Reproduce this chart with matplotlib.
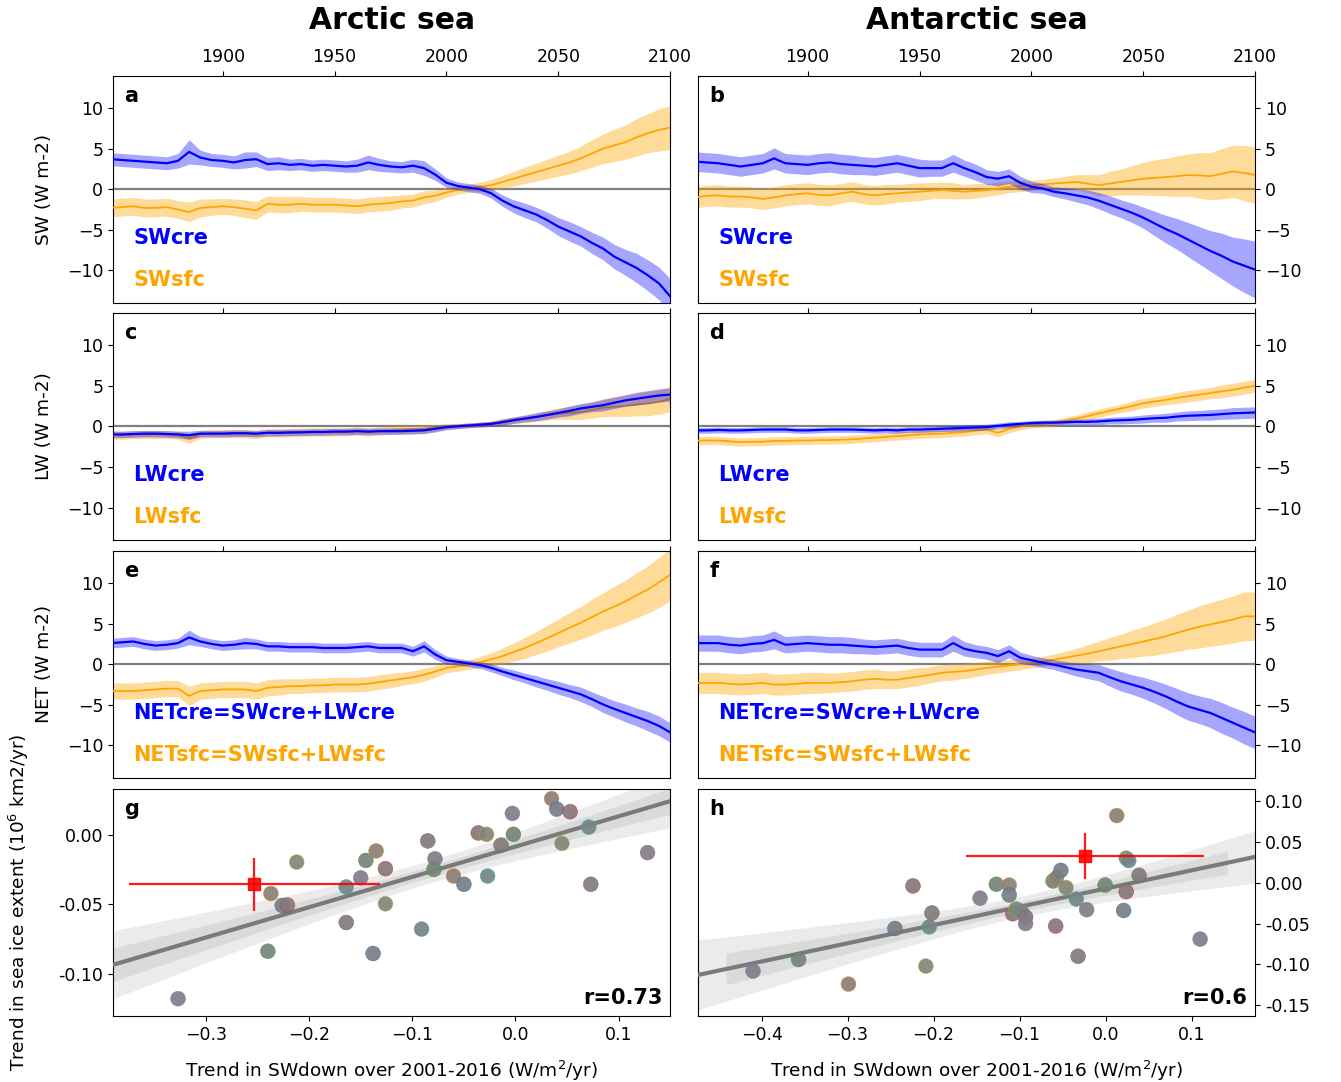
import numpy as np
import matplotlib
matplotlib.use('Agg')
import matplotlib.pyplot as plt
from matplotlib.colors import to_rgb

# ---- time series, 5-year steps 1850-2100
years = list(range(1850, 2101, 5))

arc_swcre = [3.7, 3.6, 3.5, 3.4, 3.3, 3.2, 3.5, 4.6, 3.9, 3.6, 3.5, 3.3, 3.6, 3.7, 3.1, 3.2, 3.0, 3.1, 2.9, 3.0,
             2.9, 2.8, 2.9, 3.3, 3.0, 2.8, 2.7, 2.9, 2.6, 1.8, 0.8, 0.4, 0.2, 0.0, -0.5, -1.4, -2.1, -2.6, -3.1, -3.8,
             -4.6, -5.2, -5.8, -6.6, -7.3, -8.3, -9.0, -9.7, -10.6, -11.6, -13.2]
arc_swcre_sd = [0.8, 0.8, 0.8, 0.8, 0.8, 0.8, 0.9, 1.5, 0.9, 0.8, 0.8, 0.8, 1.0, 0.9, 0.8, 0.8, 0.7, 0.7, 0.7, 0.7,
                0.7, 0.7, 0.8, 0.9, 0.8, 0.7, 0.7, 0.8, 0.9, 0.7, 0.6, 0.5, 0.5, 0.5, 0.6, 0.7, 0.8, 0.9, 0.9, 1.0,
                1.1, 1.2, 1.2, 1.3, 1.4, 1.5, 1.6, 1.8, 1.9, 2.0, 2.2]
arc_swsfc = [-2.3, -2.2, -2.1, -2.3, -2.3, -2.2, -2.5, -2.8, -2.3, -2.2, -2.1, -2.2, -2.4, -2.6, -1.8, -1.9, -1.9, -1.8,
             -1.9, -1.9, -1.9, -2.0, -2.1, -1.9, -1.8, -1.7, -1.5, -1.4, -1.0, -0.8, -0.4, -0.1, 0.1, 0.3, 0.5, 0.9,
             1.3, 1.7, 2.1, 2.5, 2.9, 3.3, 3.8, 4.4, 5.0, 5.4, 5.8, 6.4, 6.9, 7.3, 7.6]
arc_swsfc_sd = [1.1, 1.1, 1.1, 1.1, 1.1, 1.1, 1.1, 1.2, 1.1, 1.0, 1.0, 1.0, 1.1, 1.1, 1.0, 1.0, 1.0, 0.9, 0.9, 0.9,
                0.9, 0.9, 0.9, 0.9, 0.9, 0.9, 0.8, 0.8, 0.8, 0.7, 0.6, 0.5, 0.5, 0.6, 0.7, 0.8, 0.9, 1.0, 1.1, 1.2,
                1.3, 1.4, 1.5, 1.7, 1.8, 2.0, 2.1, 2.3, 2.4, 2.6, 2.7]

ant_swcre = [3.4, 3.3, 3.2, 3.0, 2.8, 3.0, 3.2, 3.8, 3.2, 3.1, 3.0, 3.2, 3.3, 3.1, 3.0, 2.9, 2.8, 3.0, 3.2, 2.9,
             2.6, 2.6, 2.6, 3.2, 2.6, 2.1, 1.5, 1.3, 1.6, 0.8, 0.3, 0.1, -0.3, -0.5, -0.75, -1.0, -1.4, -1.9, -2.4,
             -2.9, -3.5, -4.2, -4.9, -5.5, -6.2, -6.9, -7.6, -8.2, -8.9, -9.4, -9.9]
ant_swcre_sd = [1.2, 1.2, 1.2, 1.2, 1.2, 1.2, 1.2, 1.3, 1.2, 1.2, 1.2, 1.2, 1.2, 1.2, 1.2, 1.1, 1.1, 1.1, 1.1, 1.1,
                1.1, 1.0, 1.0, 1.1, 1.0, 1.0, 0.9, 0.9, 0.9, 0.8, 0.7, 0.6, 0.6, 0.7, 0.8, 0.9, 1.0, 1.1, 1.1, 1.2,
                1.3, 1.5, 1.7, 1.9, 2.1, 2.3, 2.5, 2.8, 3.0, 3.3, 3.5]
ant_swsfc = [-1.0, -0.8, -0.75, -0.9, -0.9, -1.0, -1.2, -1.0, -0.75, -0.6, -0.5, -0.7, -0.75, -0.5, -0.3, -0.6, -0.75,
             -0.6, -0.5, -0.4, -0.3, -0.2, -0.1, -0.2, -0.3, -0.2, -0.1, 0.1, 0.3, 0.4, 0.5, 0.6, 0.7, 0.8, 0.9, 0.7,
             0.5, 0.7, 0.9, 1.1, 1.3, 1.4, 1.5, 1.6, 1.75, 1.7, 1.6, 1.9, 2.2, 2.0, 1.75]
ant_swsfc_sd = [1.3, 1.3, 1.3, 1.3, 1.3, 1.3, 1.3, 1.3, 1.3, 1.3, 1.3, 1.3, 1.3, 1.2, 1.2, 1.2, 1.2, 1.2, 1.1, 1.1,
                1.1, 1.0, 1.0, 1.0, 0.9, 0.9, 0.8, 0.8, 0.7, 0.7, 0.6, 0.6, 0.7, 0.8, 0.9, 1.1, 1.3, 1.5, 1.6, 1.8,
                2.0, 2.2, 2.3, 2.5, 2.6, 2.8, 2.9, 3.1, 3.2, 3.4, 3.5]

arc_lwcre = [-1.0, -1.0, -0.95, -0.9, -0.9, -0.95, -1.0, -1.1, -0.9, -0.9, -0.9, -0.85, -0.85, -0.9, -0.8, -0.8, -0.75,
             -0.75, -0.7, -0.7, -0.65, -0.65, -0.6, -0.65, -0.6, -0.6, -0.6, -0.55, -0.5, -0.3, -0.1, 0.0, 0.1, 0.2,
             0.3, 0.5, 0.75, 0.95, 1.15, 1.4, 1.65, 1.9, 2.2, 2.4, 2.6, 2.9, 3.2, 3.4, 3.6, 3.8, 3.9]
arc_lwcre_sd = [0.4, 0.4, 0.4, 0.4, 0.4, 0.4, 0.4, 0.5, 0.4, 0.4, 0.4, 0.4, 0.4, 0.4, 0.4, 0.4, 0.4, 0.4, 0.4, 0.4,
                0.4, 0.4, 0.4, 0.4, 0.4, 0.4, 0.4, 0.4, 0.4, 0.4, 0.3, 0.3, 0.3, 0.3, 0.3, 0.4, 0.4, 0.4, 0.5, 0.5,
                0.5, 0.6, 0.6, 0.6, 0.7, 0.7, 0.7, 0.8, 0.8, 0.8, 0.8]
arc_lwsfc = [-1.1, -1.1, -1.0, -1.0, -1.0, -1.0, -1.1, -1.5, -1.0, -0.9, -0.9, -0.9, -0.9, -1.0, -0.8, -0.8, -0.8, -0.7,
             -0.7, -0.7, -0.7, -0.7, -0.6, -0.7, -0.6, -0.5, -0.4, -0.4, -0.35, -0.2, -0.05, 0.05, 0.15, 0.25, 0.35,
             0.55, 0.75, 0.95, 1.15, 1.35, 1.55, 1.65, 1.75, 2.0, 2.3, 2.4, 2.5, 2.7, 2.8, 3.0, 3.4]
arc_lwsfc_sd = [0.5, 0.5, 0.5, 0.5, 0.5, 0.5, 0.5, 0.6, 0.5, 0.5, 0.5, 0.5, 0.5, 0.5, 0.5, 0.5, 0.5, 0.5, 0.5, 0.5,
                0.5, 0.5, 0.5, 0.5, 0.5, 0.5, 0.5, 0.5, 0.5, 0.4, 0.4, 0.3, 0.3, 0.3, 0.3, 0.4, 0.4, 0.5, 0.5, 0.6,
                0.7, 0.8, 0.9, 1.0, 1.1, 1.2, 1.3, 1.4, 1.5, 1.5, 1.6]

ant_lwcre = [-0.5, -0.5, -0.45, -0.5, -0.5, -0.45, -0.4, -0.4, -0.4, -0.5, -0.5, -0.45, -0.4, -0.4, -0.4, -0.45, -0.5,
             -0.45, -0.5, -0.4, -0.4, -0.35, -0.3, -0.25, -0.2, -0.15, -0.1, 0.05, 0.2, 0.3, 0.4, 0.45, 0.45, 0.5,
             0.55, 0.55, 0.6, 0.7, 0.75, 0.8, 0.9, 1.0, 1.05, 1.2, 1.3, 1.35, 1.4, 1.5, 1.6, 1.65, 1.7]
ant_lwcre_sd = [0.35, 0.35, 0.35, 0.35, 0.35, 0.35, 0.35, 0.35, 0.35, 0.35, 0.35, 0.35, 0.35, 0.35, 0.35, 0.35, 0.35,
                0.35, 0.35, 0.35, 0.35, 0.35, 0.35, 0.35, 0.35, 0.35, 0.35, 0.35, 0.35, 0.3, 0.3, 0.3, 0.3, 0.3, 0.35,
                0.35, 0.4, 0.4, 0.45, 0.45, 0.5, 0.5, 0.55, 0.55, 0.6, 0.6, 0.65, 0.65, 0.7, 0.7, 0.7]
ant_lwsfc = [-1.75, -1.75, -1.75, -1.85, -1.95, -1.9, -1.9, -1.8, -1.8, -1.75, -1.75, -1.7, -1.7, -1.65, -1.6, -1.5,
             -1.4, -1.3, -1.2, -1.1, -1.0, -0.95, -0.9, -0.8, -0.7, -0.55, -0.4, -0.8, -0.3, -0.05, 0.2, 0.3, 0.45,
             0.7, 0.95, 1.25, 1.6, 1.9, 2.2, 2.5, 2.85, 3.05, 3.25, 3.5, 3.7, 3.9, 4.1, 4.3, 4.5, 4.75, 5.0]
ant_lwsfc_sd = [0.5, 0.5, 0.5, 0.5, 0.5, 0.5, 0.5, 0.5, 0.5, 0.5, 0.5, 0.5, 0.5, 0.5, 0.5, 0.5, 0.5, 0.5, 0.5, 0.5,
                0.5, 0.5, 0.5, 0.5, 0.5, 0.5, 0.5, 0.5, 0.5, 0.4, 0.4, 0.4, 0.4, 0.4, 0.4, 0.5, 0.5, 0.5, 0.5, 0.6,
                0.6, 0.6, 0.6, 0.7, 0.7, 0.7, 0.7, 0.8, 0.8, 0.8, 0.8]

arc_netcre = [2.6, 2.7, 2.8, 2.5, 2.3, 2.4, 2.6, 3.3, 2.8, 2.5, 2.3, 2.4, 2.6, 2.5, 2.2, 2.2, 2.1, 2.1, 2.1, 2.0,
              2.0, 2.0, 2.1, 2.2, 2.0, 2.0, 2.0, 1.6, 2.2, 1.2, 0.5, 0.3, 0.1, -0.1, -0.45, -0.9, -1.3, -1.7, -2.1,
              -2.5, -2.9, -3.3, -3.7, -4.3, -4.95, -5.5, -6.0, -6.5, -7.0, -7.6, -8.4]
arc_netcre_sd = [0.6, 0.6, 0.6, 0.6, 0.6, 0.6, 0.6, 0.9, 0.6, 0.6, 0.6, 0.6, 0.7, 0.6, 0.6, 0.6, 0.6, 0.6, 0.6, 0.6,
                 0.6, 0.6, 0.6, 0.6, 0.6, 0.6, 0.6, 0.6, 0.7, 0.6, 0.5, 0.4, 0.4, 0.4, 0.5, 0.5, 0.6, 0.6, 0.7, 0.7,
                 0.8, 0.8, 0.9, 0.9, 1.0, 1.0, 1.1, 1.1, 1.2, 1.2, 1.2]
arc_netsfc = [-3.3, -3.3, -3.3, -3.2, -3.1, -3.0, -3.0, -3.9, -3.3, -3.2, -3.1, -3.1, -3.1, -3.3, -2.9, -2.8, -2.7, -2.7,
              -2.6, -2.6, -2.5, -2.5, -2.5, -2.4, -2.2, -2.0, -1.8, -1.6, -1.3, -0.9, -0.45, -0.25, -0.05, 0.25, 0.6,
              1.0, 1.5, 2.0, 2.6, 3.2, 3.85, 4.5, 5.1, 5.8, 6.5, 7.1, 7.75, 8.5, 9.2, 10.1, 11.0]
arc_netsfc_sd = [1.0, 1.0, 1.0, 1.0, 1.0, 1.0, 1.0, 1.2, 1.0, 1.0, 1.0, 1.0, 1.0, 1.0, 1.0, 1.0, 0.9, 0.9, 0.9, 0.9,
                 0.9, 0.9, 0.9, 0.9, 0.9, 0.9, 0.8, 0.8, 0.8, 0.7, 0.6, 0.6, 0.6, 0.7, 0.8, 1.0, 1.1, 1.3, 1.4, 1.6,
                 1.7, 1.9, 2.0, 2.2, 2.3, 2.5, 2.6, 2.8, 2.9, 3.1, 3.2]

ant_netcre = [2.6, 2.6, 2.6, 2.4, 2.3, 2.5, 2.6, 3.0, 2.4, 2.5, 2.6, 2.5, 2.4, 2.4, 2.3, 2.2, 2.1, 2.2, 2.3, 2.0,
              1.8, 1.8, 1.8, 2.6, 1.9, 1.6, 1.4, 1.0, 1.6, 0.8, 0.5, 0.2, -0.05, -0.35, -0.65, -0.85, -1.05, -1.6,
              -2.1, -2.5, -2.9, -3.4, -3.95, -4.6, -5.2, -5.6, -6.0, -6.6, -7.2, -7.8, -8.4]
ant_netcre_sd = [1.0, 1.0, 1.0, 1.0, 1.0, 1.0, 1.0, 1.1, 1.0, 1.0, 1.0, 1.0, 1.0, 1.0, 1.0, 0.9, 0.9, 0.9, 0.9, 0.9,
                 0.9, 0.9, 0.9, 1.0, 0.9, 0.8, 0.8, 0.8, 0.8, 0.7, 0.6, 0.6, 0.6, 0.7, 0.8, 0.9, 1.0, 1.1, 1.2, 1.2,
                 1.3, 1.4, 1.5, 1.6, 1.7, 1.7, 1.8, 1.9, 1.9, 2.0, 2.0]
ant_netsfc = [-2.3, -2.3, -2.3, -2.4, -2.5, -2.4, -2.3, -2.5, -2.5, -2.4, -2.3, -2.3, -2.3, -2.2, -2.1, -1.9, -1.8, -1.9,
              -1.9, -1.7, -1.5, -1.3, -1.05, -0.95, -0.85, -0.65, -0.45, -0.3, -0.15, 0.0, 0.15, 0.35, 0.55, 0.8,
              1.05, 1.3, 1.6, 1.9, 2.2, 2.5, 2.8, 3.1, 3.45, 3.85, 4.25, 4.6, 4.9, 5.2, 5.5, 5.9, 5.9]
ant_netsfc_sd = [1.3, 1.3, 1.3, 1.3, 1.3, 1.3, 1.3, 1.3, 1.3, 1.3, 1.3, 1.3, 1.2, 1.2, 1.2, 1.2, 1.2, 1.1, 1.1, 1.1,
                 1.1, 1.0, 1.0, 1.0, 0.9, 0.9, 0.8, 0.8, 0.7, 0.7, 0.6, 0.6, 0.7, 0.8, 0.9, 1.1, 1.2, 1.4, 1.5, 1.7,
                 1.8, 2.0, 2.1, 2.3, 2.4, 2.6, 2.7, 2.8, 2.9, 3.0, 3.0]

# ---- scatter: model trends 2001-2016
arc_sw = [-0.327, -0.240, -0.237, -0.226, -0.221, -0.212, -0.164, -0.164, -0.150, -0.145, -0.135, -0.138, -0.126,
          -0.126, -0.091, -0.085, -0.078, -0.079, -0.060, -0.050, -0.036, -0.028, -0.027, -0.014, -0.003, -0.002,
          0.035, 0.040, 0.053, 0.045, 0.071, 0.073, 0.128]
arc_ice = [-0.1176, -0.0836, -0.0422, -0.0508, -0.0505, -0.0197, -0.0375, -0.0630, -0.0310, -0.0185, -0.0117,
           -0.0852, -0.0244, -0.0496, -0.0677, -0.0045, -0.0173, -0.0250, -0.0297, -0.0356, 0.0012, 0.0002, -0.0297,
           -0.0075, 0.0152, 0.0002, 0.0258, 0.0183, 0.0164, -0.0063, 0.0054, -0.0356, -0.0129]
ant_sw = [-0.410, -0.357, -0.299, -0.245, -0.224, -0.209, -0.205, -0.202, -0.146, -0.127, -0.112, -0.112, -0.108,
          -0.104, -0.098, -0.093, -0.093, -0.061, -0.057, -0.052, -0.058, -0.046, -0.034, -0.032, -0.022, -0.0005,
          0.013, 0.021, 0.024, 0.024, 0.027, 0.039, 0.110]
ant_ice = [-0.108, -0.094, -0.124, -0.056, -0.004, -0.102, -0.054, -0.037, -0.019, -0.002, -0.003, -0.015, -0.038,
           -0.032, -0.035, -0.042, -0.050, 0.002, 0.006, 0.015, -0.053, -0.006, -0.020, -0.090, -0.033, -0.003,
           0.082, -0.034, -0.011, 0.030, 0.027, 0.009, -0.069]
# observation: x, y, xerr, yerr
arc_obs = [-0.253, -0.0356, 0.122, 0.019]
ant_obs = [-0.024, 0.033, 0.138, 0.028]

ts_panels = [
    ('a', arc_swcre, arc_swcre_sd, arc_swsfc, arc_swsfc_sd, 'SWcre', 'SWsfc', 'SW (W m-2)'),
    ('b', ant_swcre, ant_swcre_sd, ant_swsfc, ant_swsfc_sd, 'SWcre', 'SWsfc', None),
    ('c', arc_lwcre, arc_lwcre_sd, arc_lwsfc, arc_lwsfc_sd, 'LWcre', 'LWsfc', 'LW (W m-2)'),
    ('d', ant_lwcre, ant_lwcre_sd, ant_lwsfc, ant_lwsfc_sd, 'LWcre', 'LWsfc', None),
    ('e', arc_netcre, arc_netcre_sd, arc_netsfc, arc_netsfc_sd, 'NETcre=SWcre+LWcre', 'NETsfc=SWsfc+LWsfc', 'NET (W m-2)'),
    ('f', ant_netcre, ant_netcre_sd, ant_netsfc, ant_netsfc_sd, 'NETcre=SWcre+LWcre', 'NETsfc=SWsfc+LWsfc', None),
]

plt.rcParams['font.size'] = 12.5
plt.rcParams['axes.labelsize'] = 13.3
fig = plt.figure(figsize=(13.41, 10.82), dpi=100)

col_x = [0.0843, 0.5205]
col_w = 0.4155
row_y = [0.7200, 0.5009, 0.2810, 0.0610]
row_h = 0.2102

yrs = np.array(years)
for i, (lab, cre, cre_sd, sfc, sfc_sd, t1, t2, ylab) in enumerate(ts_panels):
    row, col = i // 2, i % 2
    ax = fig.add_axes([col_x[col], row_y[row], col_w, row_h])
    cre, cre_sd = np.array(cre), np.array(cre_sd)
    sfc, sfc_sd = np.array(sfc), np.array(sfc_sd)
    ax.axhline(0, color='grey', lw=1.6, zorder=1)
    ax.fill_between(yrs, sfc - sfc_sd, sfc + sfc_sd, color='orange', alpha=0.4, lw=0, zorder=2)
    ax.plot(yrs, sfc, color='orange', lw=1.3, zorder=3)
    ax.fill_between(yrs, cre - cre_sd, cre + cre_sd, color='blue', alpha=0.35, lw=0, zorder=4)
    ax.plot(yrs, cre, color='blue', lw=1.6, zorder=5)
    ax.set_xlim(1851, 2100)
    ax.set_ylim(-14, 14)
    ax.set_yticks([-10, -5, 0, 5, 10])
    ax.set_xticks([1900, 1950, 2000, 2050, 2100])
    ax.xaxis.tick_top()
    if row > 0:
        ax.set_xticklabels([])
    if col == 1:
        ax.yaxis.tick_right()
    if ylab:
        ax.set_ylabel(ylab, labelpad=10)
    ax.text(0.02, 0.955, lab, transform=ax.transAxes, fontsize=15, fontweight='bold', va='top', ha='left')
    ax.text(0.036, 0.285, t1, transform=ax.transAxes, fontsize=15, fontweight='bold', color='blue', va='center')
    ax.text(0.036, 0.10, t2, transform=ax.transAxes, fontsize=15, fontweight='bold', color='orange', va='center')

fig.text(col_x[0] + col_w / 2, 0.981, 'Arctic sea', ha='center', va='center', fontsize=21.5, fontweight='bold')
fig.text(col_x[1] + col_w / 2, 0.981, 'Antarctic sea', ha='center', va='center', fontsize=21.5, fontweight='bold')

tints = ['#9467bd', '#2ca02c', '#ff7f0e', '#1f77b4', '#d62728', '#bcbd22', '#17becf', '#8c564b']
grey = np.array(to_rgb('#7f7f7f'))

sc_panels = [
    ('g', arc_sw, arc_ice, arc_obs, 'r=0.73', (-0.39, 0.15), (-0.13, 0.033),
     [-0.10, -0.05, 0.00], (-0.39, 0.15)),
    ('h', ant_sw, ant_ice, ant_obs, 'r=0.6', (-0.474, 0.174), (-0.163, 0.115),
     [-0.15, -0.10, -0.05, 0.00, 0.05, 0.10], (-0.443, 0.144)),
]
for col, (lab, xs, ys, obs, rtxt, xl, yl, yt, inner_span) in enumerate(sc_panels):
    ax = fig.add_axes([col_x[col], row_y[3], col_w, row_h])
    xs, ys = np.array(xs), np.array(ys)
    n = len(xs)
    b, a = np.polyfit(xs, ys, 1)
    resid = ys - (a + b * xs)
    s = np.sqrt(np.sum(resid ** 2) / (n - 2))
    xm = xs.mean()
    sxx = np.sum((xs - xm) ** 2)
    xg = np.linspace(xl[0], xl[1], 200)
    fit = a + b * xg
    se = s * np.sqrt(1.0 / n + (xg - xm) ** 2 / sxx)
    ax.fill_between(xg, fit - 2.04 * se, fit + 2.04 * se, color='#ebebeb', lw=0, zorder=1)
    inner = (xg >= inner_span[0]) & (xg <= inner_span[1])
    ax.fill_between(xg[inner], (fit - se)[inner], (fit + se)[inner], color='#dadada', lw=0, zorder=2)
    ax.plot(xg, fit, color='#7a7a7a', lw=3, zorder=3)
    faces = [0.92 * grey + 0.08 * np.array(to_rgb(tints[k % len(tints)])) for k in range(n)]
    ax.scatter(xs, ys, s=115, c=faces, edgecolors=[tints[k % len(tints)] for k in range(n)],
               linewidths=0.3, alpha=0.92, zorder=4)
    ax.errorbar(obs[0], obs[1], xerr=obs[2], yerr=obs[3], fmt='s', color='red', ms=8, lw=1.6, capsize=0,
                alpha=0.9, zorder=5)
    ax.set_xlim(xl)
    ax.set_ylim(yl)
    ax.set_yticks(yt)
    ax.yaxis.set_major_formatter(matplotlib.ticker.FormatStrFormatter('%.2f'))
    if col == 1:
        ax.yaxis.tick_right()
    else:
        ax.set_ylabel('Trend in sea ice extent (10$^6$ km2/yr)', labelpad=20)
    ax.set_xlabel('Trend in SWdown over 2001-2016 (W/m$^2$/yr)', labelpad=11)
    ax.text(0.02, 0.955, lab, transform=ax.transAxes, fontsize=15, fontweight='bold', va='top', ha='left')
    ax.text(0.986, 0.035, rtxt, transform=ax.transAxes, fontsize=15, fontweight='bold', ha='right', va='bottom')

fig.savefig('out.png', dpi=100)
